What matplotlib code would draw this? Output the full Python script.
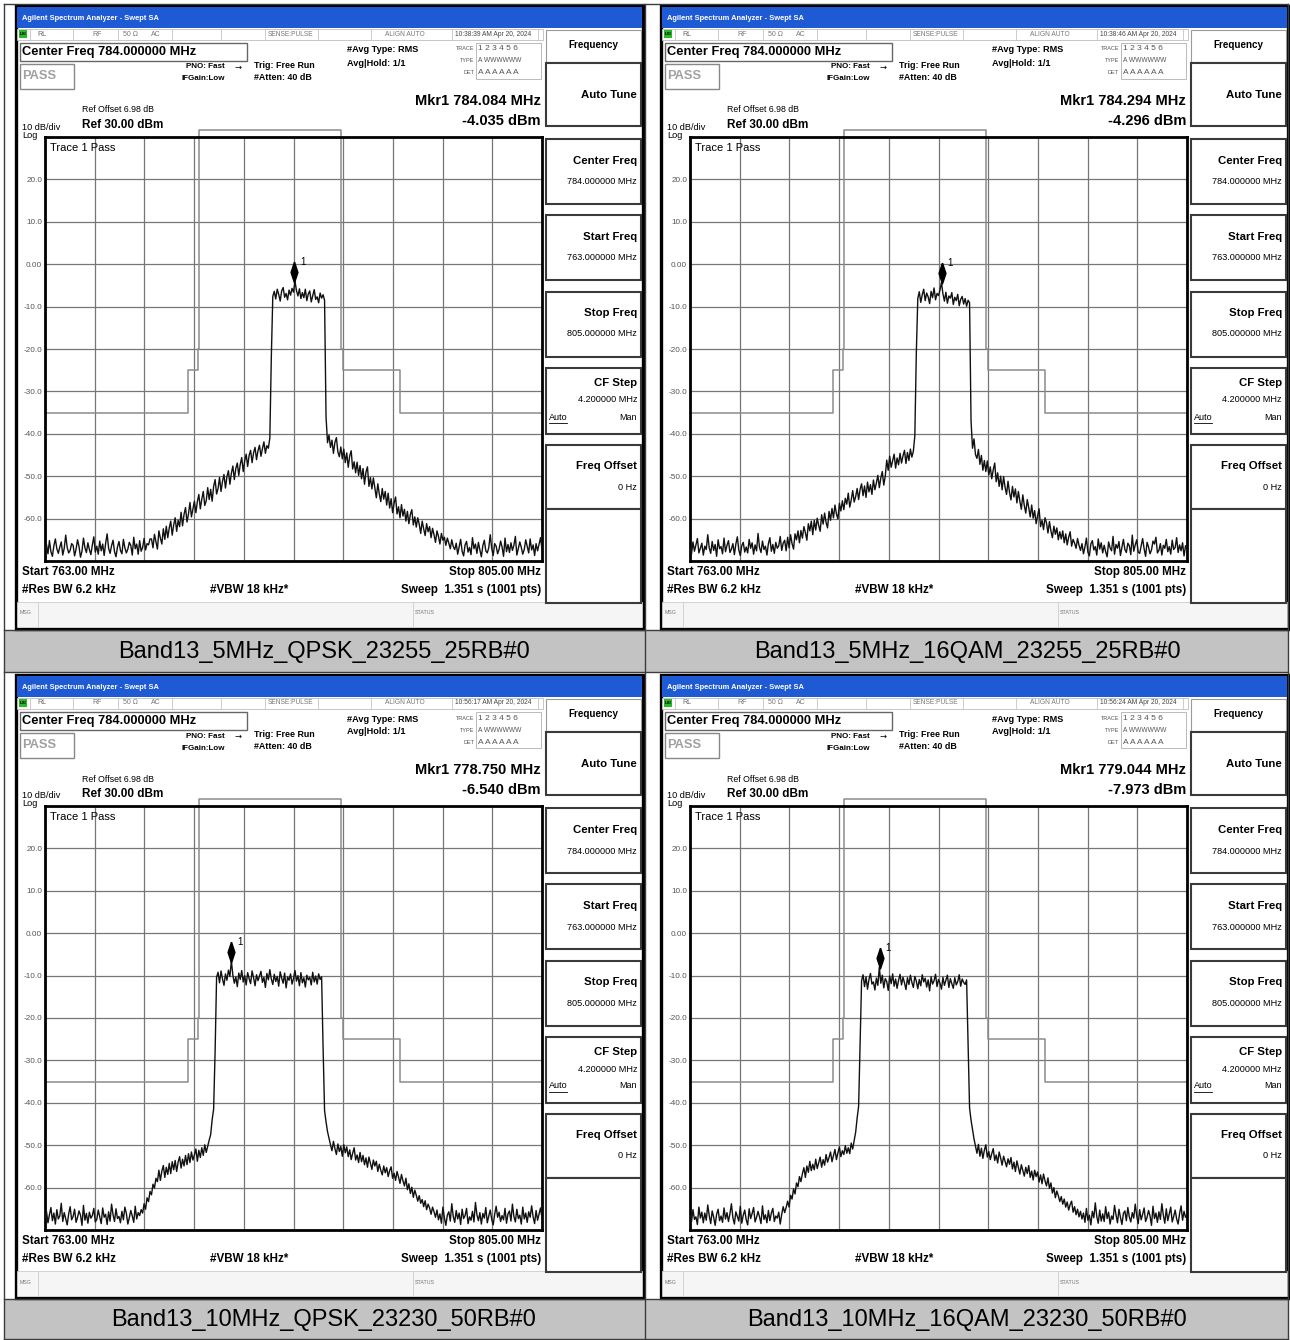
import numpy as np
import matplotlib
matplotlib.use("Agg")
import matplotlib.pyplot as plt
from matplotlib.patches import Rectangle
from matplotlib.lines import Line2D

# sweep settings (same on all four screens)
freq_start = 763.0
freq_stop = 805.0
ref_level = 30.0

level_5m_qpsk = [
    -67.4, -66.1, -68.3, -65.2, -67.8, -68.9, -66.4, -64.8, -67.1, -68.2,
    -66.7, -65.5, -68.6, -67.0, -63.9, -66.8, -68.1, -67.5, -65.9, -66.3,
    -68.8, -67.2, -65.0, -66.6, -69.1, -67.7, -64.6, -66.9, -68.0, -65.7,
    -67.3, -68.5, -66.2, -64.3, -67.9, -66.5, -68.4, -65.3, -67.6, -66.0,
    -68.7, -65.8, -63.6, -67.0, -68.2, -66.4, -65.1, -67.8, -69.0, -66.7,
    -65.4, -67.5, -68.3, -64.9, -66.9, -68.1, -67.2, -65.6, -66.3, -68.6,
    -64.4, -67.1, -66.0, -68.4, -65.2, -67.7, -66.8, -64.7, -67.4, -65.9,
    -66.2, -64.8,
    -64.8, -66.9, -63.7, -65.5, -67.2, -62.9, -64.6, -66.0, -62.4, -64.9,
    -61.8, -64.5, -62.2, -60.6, -63.9, -61.5, -59.8, -63.0, -60.4, -61.9,
    -58.5, -61.7, -59.0, -57.4, -60.8, -58.9, -56.2, -59.6, -57.8, -55.9,
    -58.6, -56.0, -54.3, -57.7, -55.4, -53.6, -56.9, -55.8, -52.7, -55.5,
    -53.1, -55.9, -52.4, -50.8, -54.2, -52.9, -50.3, -53.6, -51.2, -49.6,
    -52.8, -50.1, -48.7, -51.9, -49.3, -47.6, -50.8, -48.2, -46.9, -49.8,
    -47.2, -45.6, -48.9, -46.4, -44.8, -47.7, -45.1, -43.9, -46.8, -44.5,
    -43.2, -46.1, -44.0, -42.7, -45.3, -43.5, -41.9, -44.6, -42.8, -43.4,
    -41.0, -22.0,
    -7.6, -6.4, -8.2, -5.9, -7.1, -8.7, -6.3, -5.5, -7.8, -6.9,
    -8.4, -6.1, -7.3, -5.7, -6.6, -4.0, -6.2, -7.5, -5.8, -8.1,
    -6.7, -7.9, -5.9, -8.6, -7.0, -6.3, -8.9, -7.4, -6.0, -8.3,
    -7.7, -9.1, -6.8, -8.0, -7.2, -8.5,
    -36.0,
    -42.1, -40.3, -43.2, -41.5, -44.6, -42.0, -40.9, -44.3, -45.4, -43.1,
    -45.9, -43.6, -46.8, -44.5, -47.9, -45.2, -44.0, -48.3, -46.6, -49.2,
    -46.7, -49.8, -47.5, -50.6, -48.2, -51.9, -49.0, -47.8, -52.4, -50.3,
    -53.0, -50.4, -52.7, -55.1, -51.8, -54.2, -56.0, -52.9, -55.4, -53.6,
    -56.8, -54.0, -57.5, -55.3, -58.6, -56.4, -54.9, -58.9, -57.2, -59.8,
    -56.7, -59.4, -57.8, -60.6, -58.3, -61.2, -59.0, -57.9, -61.5, -59.6,
    -62.0, -59.8, -61.3, -63.5, -60.6, -62.4, -64.0, -61.2, -63.1, -61.9,
    -64.5, -62.3, -63.8, -65.6, -62.9, -64.2, -66.0, -63.5, -65.1, -64.4,
    -66.3, -64.6, -65.8, -67.1, -65.0, -66.6,
    -67.3, -65.8, -68.4, -66.6, -64.9, -67.7, -68.8, -66.2, -65.4, -67.9,
    -66.8, -68.5, -64.5, -67.1, -66.0, -68.2, -65.6, -67.4, -69.0, -66.4,
    -65.1, -67.6, -68.1, -66.9, -63.8, -67.0, -68.7, -65.9, -66.5, -68.3,
    -67.2, -65.3, -66.7, -68.9, -64.6, -67.8, -66.1, -68.0, -65.7, -67.5,
    -66.3, -64.2, -68.6, -67.0, -65.5, -66.8, -68.4, -67.3, -65.0, -66.6,
    -68.1, -64.8, -67.4, -66.2, -68.7, -65.9, -67.6, -66.0, -64.5, -67.2,
]
level_5m_16qam = [
    -66.8, -68.4, -65.5, -67.7, -66.2, -64.7, -68.1, -67.0, -65.8, -68.6,
    -66.5, -67.3, -63.8, -66.9, -68.2, -65.4, -67.5, -66.1, -68.9, -65.0,
    -67.1, -66.6, -68.3, -64.6, -67.8, -66.3, -65.2, -68.0, -67.2, -65.9,
    -68.5, -66.0, -64.3, -67.4, -68.7, -66.4, -65.6, -67.9, -66.7, -68.1,
    -64.9, -67.0, -65.7, -68.4, -66.2, -67.6, -63.5, -66.8, -68.0, -65.3,
    -67.3, -66.5, -68.6, -65.9, -64.5, -67.7, -66.1, -68.2, -65.6, -67.0,
    -66.4, -64.2, -67.5, -65.8,
    -65.1, -67.6, -64.4, -66.9, -63.8, -65.9, -67.2, -63.6, -65.0, -62.9,
    -65.7, -62.8, -64.6, -61.9, -63.3, -65.1, -61.2, -62.9, -60.6, -63.8,
    -60.4, -62.7, -59.9, -61.6, -63.0, -59.1, -61.3, -58.7, -60.9, -62.2,
    -58.3, -60.4, -57.6, -59.8, -56.8, -58.9, -60.1, -56.4, -58.2, -55.8,
    -57.9, -55.2, -56.6, -54.0, -57.3, -55.6, -53.4, -56.1, -54.8, -52.9,
    -55.5, -53.1, -51.8, -54.6, -52.3, -55.0, -51.4, -53.7, -52.0, -54.3,
    -50.9, -53.2, -51.6, -49.8, -52.7, -50.4, -48.9, -52.1, -50.0, -46.2,
    -48.6, -45.3, -47.9, -46.4, -44.8, -48.1, -45.7, -47.3, -44.6, -46.9,
    -45.2, -43.9, -47.0, -44.4, -46.3, -43.6, -45.5, -44.1,
    -40.5, -21.0,
    -8.1, -6.5, -9.0, -7.2, -5.9, -8.6, -6.8, -7.7, -9.3, -6.4,
    -7.9, -5.6, -8.4, -6.9, -7.4, -6.1, -4.3, -7.0, -8.7, -6.6,
    -9.2, -7.5, -8.0, -6.7, -9.5, -7.8, -8.6, -7.1, -9.8, -8.3,
    -7.6, -9.4, -8.1, -9.9, -8.5, -9.1,
    -37.0,
    -43.4, -41.2, -44.9, -45.8, -43.7, -47.2, -45.1, -48.6, -46.3, -48.9,
    -46.4, -49.7, -47.8, -50.6, -48.5, -46.9, -51.3, -49.2, -52.4, -50.0,
    -53.2, -50.1, -52.6, -54.3, -51.2, -53.8, -55.6, -52.4, -54.9, -53.0,
    -56.3, -53.6, -55.9, -57.8, -54.4, -56.9, -58.7, -55.5, -57.4, -59.6,
    -56.8, -59.9, -58.1, -61.2, -59.3, -57.7, -61.9, -60.4, -62.6, -59.8,
    -61.0, -63.4, -60.7, -62.9, -64.5, -61.8, -63.7, -62.2, -65.0, -63.1,
    -64.8, -62.9, -65.7, -63.6, -66.2, -64.4, -63.1, -66.5, -64.9, -65.8,
    -67.0, -64.7, -66.3,
    -67.5, -65.9, -68.3, -66.7, -64.6, -67.9, -68.8, -66.0, -65.2, -67.4,
    -66.6, -68.6, -64.8, -67.2, -65.7, -68.1, -66.3, -67.8, -69.0, -65.5,
    -66.9, -67.6, -64.2, -68.4, -66.1, -67.0, -65.4, -68.7, -66.8, -64.9,
    -67.3, -68.0, -65.8, -66.4, -68.5, -63.9, -67.7, -66.2, -65.0, -67.9,
    -68.2, -66.5, -64.7, -67.1, -68.9, -65.6, -66.7, -68.3, -67.4, -65.3,
    -66.0, -64.4, -68.1, -67.5, -65.9, -68.6, -66.3, -67.0, -64.9, -67.8,
    -66.6, -68.4, -65.1, -67.3, -66.8, -64.5, -68.0, -66.2, -67.6, -65.7,
    -68.8, -66.4, -67.2,
]
level_10m_qpsk = [
    -67.1, -65.6, -68.3, -66.4, -64.7, -67.8, -66.0, -68.6, -65.2, -67.4,
    -66.7, -63.7, -68.0, -65.9, -67.3, -68.8, -66.2, -64.5, -67.6, -66.8,
    -65.1, -68.2, -67.0, -65.5, -66.5, -68.9, -64.2, -67.7, -66.1, -68.4,
    -65.8, -67.2, -66.6, -64.9, -68.1, -67.5, -65.3, -66.9, -68.5, -64.8,
    -67.0, -66.3, -68.7, -65.7, -67.9, -63.9, -66.4, -68.0, -65.0, -67.3,
    -66.8, -68.3, -65.6, -67.6, -64.6, -66.1, -68.6, -67.1, -65.4, -66.7,
    -68.2, -64.4, -67.4, -65.9, -66.6, -65.2,
    -66.0, -63.8, -65.1, -62.4, -63.3, -60.9, -61.7, -59.2, -60.1, -57.8, -58.6,
    -55.9, -58.3, -56.1, -54.8, -57.6, -55.2, -56.9, -54.3, -56.7, -53.9,
    -55.8, -53.6, -56.2, -54.0, -52.7, -55.4, -53.3, -54.9, -52.4, -54.6,
    -52.0, -54.1, -51.6, -53.5, -52.3, -50.9, -53.8, -51.2, -52.9, -50.6,
    -52.4, -49.9, -51.7, -50.2, -48.8,
    -47.5, -44.0, -41.5, -28.0,
    -10.4, -9.2, -11.7, -8.9, -10.8, -12.3, -9.6, -11.1, -8.7, -10.2,
    -6.5, -9.9, -11.8, -10.3, -12.6, -9.4, -10.9, -8.8, -11.5, -10.0,
    -12.2, -9.3, -10.7, -11.9, -8.9, -10.5, -12.4, -9.8, -11.2, -10.1,
    -9.0, -11.6, -10.4, -12.8, -9.5, -11.0, -8.6, -10.8, -12.1, -9.7,
    -11.4, -10.2, -12.5, -9.1, -10.6, -11.8, -9.4, -12.9, -10.3, -11.1,
    -9.6, -12.0, -10.7, -8.8, -11.3, -10.0, -12.4, -9.3, -11.7, -10.5,
    -12.7, -9.9, -11.0, -10.4, -12.2, -9.2, -11.5, -10.1, -12.0, -9.6,
    -10.9, -10.3,
    -27.0, -41.8, -44.5, -46.8, -48.4, -49.9,
    -51.3, -49.1, -50.8, -52.2, -49.7, -51.5, -50.3, -52.6, -49.9, -51.8,
    -50.4, -52.7, -51.1, -53.4, -51.9, -50.6, -53.5, -52.3, -54.1, -51.7,
    -53.9, -52.4, -54.6, -53.0, -55.2, -52.8, -54.3, -55.7, -53.5, -54.9,
    -53.8, -56.2, -54.5, -55.9, -57.0, -54.9, -56.5, -55.3, -57.4, -56.0,
    -55.1, -57.8, -56.6, -58.3, -56.2, -57.5, -59.0, -56.9, -58.4,
    -59.6, -57.8, -60.5, -59.1, -61.4, -59.9, -62.3, -60.6, -61.8, -63.2,
    -61.9, -63.7, -62.8, -64.5, -63.1, -65.2, -63.9, -64.8, -66.3, -64.6,
    -65.7, -67.0,
    -65.3, -67.6, -66.2, -68.4, -64.6, -67.1, -68.9, -66.5, -65.7, -67.9,
    -63.8, -66.8, -68.2, -65.4, -67.4, -66.0, -68.7, -65.1, -67.3, -66.6,
    -64.9, -68.5, -66.9, -67.7, -65.6, -68.1, -63.5, -66.4, -67.8, -65.9,
    -68.6, -66.1, -67.2, -64.7, -68.3, -66.7, -65.3, -67.5, -68.8, -66.3,
    -64.4, -67.0, -65.8, -68.0, -66.6, -67.6, -64.9, -68.4, -66.2, -65.5,
    -67.9, -63.9, -66.8, -68.1, -65.1, -67.3, -66.5, -68.6, -64.6, -67.4,
    -66.0, -68.2, -65.7, -67.0, -64.3, -66.9, -68.5, -65.4, -67.7, -66.3,
    -64.8, -67.2,
]
level_10m_16qam = [
    -66.4, -68.1, -65.2, -67.5, -66.9, -68.7, -64.6, -67.2, -65.8, -68.3,
    -66.0, -67.7, -64.1, -66.6, -68.5, -65.5, -67.0, -68.9, -66.3, -65.1,
    -67.8, -66.7, -68.2, -64.8, -67.4, -65.9, -68.0, -66.2, -63.8, -67.1,
    -68.6, -65.7, -66.8, -67.9, -64.4, -68.4, -66.5, -65.3, -67.6, -68.8,
    -65.0, -67.3, -66.1, -64.7, -68.1, -67.0, -65.6, -66.9, -68.5, -64.3,
    -67.5, -66.4, -68.3, -65.4, -67.8, -66.0, -64.9, -68.0, -66.7, -67.2,
    -65.8, -68.6, -66.3, -64.5, -65.9, -64.7,
    -63.2, -64.6, -61.8, -62.7, -60.3, -61.5, -58.9, -59.8, -57.4, -58.6, -56.7,
    -55.3, -57.6, -54.9, -56.4, -53.8, -56.0, -54.5, -55.8, -53.3, -55.5,
    -54.1, -52.8, -55.2, -53.4, -54.7, -52.2, -54.0, -52.9, -51.6, -53.9,
    -52.5, -51.0, -53.4, -51.8, -50.4, -52.7, -51.3, -52.2, -50.1, -51.9,
    -50.6, -52.0, -49.5, -50.9, -48.9,
    -46.9, -43.6, -40.8, -26.5,
    -11.2, -9.8, -12.6, -10.3, -13.2, -10.9, -9.5, -12.0, -11.5, -13.4,
    -10.6, -12.3, -8.0, -11.8, -9.9, -12.9, -10.7, -11.4, -13.5, -10.1,
    -11.9, -9.6, -12.5, -10.8, -13.0, -11.1, -9.7, -12.2, -10.4, -11.7,
    -13.3, -10.5, -12.1, -9.9, -11.6, -12.8, -10.2, -11.3, -13.1, -10.9,
    -12.4, -9.8, -11.5, -10.6, -12.7, -11.0, -13.6, -10.3, -12.0, -11.2,
    -9.7, -12.6, -10.9, -11.8, -13.2, -10.4, -12.3, -11.1, -9.9, -12.8,
    -10.7, -11.9, -13.0, -10.5, -12.2, -11.4, -9.8, -12.5, -10.8, -11.6,
    -12.1, -11.0,
    -26.0, -41.2, -44.1, -46.3, -48.5, -50.2,
    -51.9, -49.8, -52.6, -50.7, -53.1, -51.2, -49.9, -52.8, -51.5, -53.4,
    -52.0, -50.8, -53.6, -52.3, -54.2, -51.6, -53.0, -54.7, -52.6, -53.8,
    -55.1, -53.2, -54.5, -52.9, -55.6, -54.0, -56.2, -53.7, -55.2, -56.8,
    -54.6, -56.0, -57.3, -55.2, -56.7, -54.8, -57.6, -56.1, -58.2, -55.9,
    -57.4, -56.3, -58.7, -57.0, -59.1, -56.8, -58.4, -59.6, -57.7,
    -60.2, -58.9, -61.3, -60.0, -62.4, -60.8, -61.9, -63.3, -62.1, -63.9,
    -62.7, -64.6, -63.4, -65.3, -64.0, -63.2, -65.8, -64.5, -66.4, -65.1,
    -66.9, -65.6,
    -67.4, -66.0, -68.2, -64.9, -67.7, -66.5, -68.8, -65.6, -67.1, -63.6,
    -66.8, -68.4, -65.3, -67.9, -66.2, -68.0, -64.5, -67.3, -65.8, -68.6,
    -66.7, -67.5, -64.2, -66.4, -68.3, -65.1, -67.0, -68.7, -66.1, -65.5,
    -67.8, -64.7, -66.9, -68.1, -65.9, -67.2, -63.9, -66.6, -68.5, -65.2,
    -67.6, -66.3, -64.8, -68.0, -67.0, -65.4, -66.7, -68.9, -64.4, -67.3,
    -66.0, -68.2, -65.7, -67.5, -63.8, -66.5, -68.4, -65.0, -67.8, -66.2,
    -64.6, -68.1, -66.8, -65.3, -67.4, -68.6, -66.1, -64.3, -67.7, -65.6,
    -67.0, -66.4,
]

marker_freq = [784.084, 784.294, 778.750, 779.044]
marker_level = [-4.035, -4.296, -6.540, -7.973]
captions = ["Band13_5MHz_QPSK_23255_25RB#0", "Band13_5MHz_16QAM_23255_25RB#0",
            "Band13_10MHz_QPSK_23230_50RB#0", "Band13_10MHz_16QAM_23230_50RB#0"]
timestamps = ["10:38:39 AM Apr 20, 2024", "10:38:46 AM Apr 20, 2024",
              "10:56:17 AM Apr 20, 2024", "10:56:24 AM Apr 20, 2024"]

# spectrum emission mask limit line
mask_freq = [763.0, 775.05, 775.05, 775.9, 775.9, 776.05, 776.05, 788.0, 788.0, 788.2, 788.2, 793.0, 793.0, 805.0]
mask_level = [-35, -35, -25, -25, -20, -20, 31.6, 31.6, -20, -20, -25, -25, -35, -35]

ytick_vals = [20, 10, 0, -10, -20, -30, -40, -50, -60]
ytick_text = ['20.0', '10.0', '0.00', '-10.0', '-20.0', '-30.0', '-40.0', '-50.0', '-60.0']

W, H = 1290, 1340
SANS = ['Liberation Sans', 'DejaVu Sans']

fig = plt.figure(figsize=(W / 100, H / 100), dpi=100)
fig.patch.set_facecolor('white')


def rect(x0, y0, x1, y1, fc='none', ec='none', lw=1.0, z=-5):
    fig.add_artist(Rectangle((x0 / W, 1 - y1 / H), (x1 - x0) / W, (y1 - y0) / H,
                             transform=fig.transFigure, facecolor=fc, edgecolor=ec, lw=lw, zorder=z))


def line(xs, ys, color='black', lw=1.0, z=-3):
    fig.add_artist(Line2D([x / W for x in xs], [1 - y / H for y in ys],
                          transform=fig.transFigure, color=color, lw=lw, zorder=z))


def put(x, y, s, size=7, ha='left', bold=False, color='black', family=SANS):
    fig.text(x / W, 1 - y / H, s, fontsize=size, ha=ha, va='center',
             fontweight='bold' if bold else 'normal', color=color, family=family, zorder=5)


# table cells
rect(4, 630, 1288, 672, fc='#c3c3c3', z=-6)
rect(4, 1299, 1288, 1339, fc='#c3c3c3', z=-6)
for yy in [4, 630, 672, 1299, 1339]:
    line([4, 1288], [yy, yy], color='#3c3c3c', lw=1.0, z=-2)
for xx in [4, 645, 1288]:
    line([xx, xx], [4, 1339], color='#3c3c3c', lw=1.0, z=-2)

traces = [level_5m_qpsk, level_5m_16qam, level_10m_qpsk, level_10m_16qam]
offsets = [(0, 0), (645, 0), (0, 669), (645, 669)]
DIAMOND = [(0, 1), (0.33, 0), (0, -1), (-0.33, 0), (0, 1)]

for k in range(4):
    ox, oy = offsets[k]

    # screen frame + title bar
    rect(ox + 16, oy + 6, ox + 643, oy + 629, fc='white', ec='black', lw=2.4, z=-5)
    rect(ox + 17, oy + 7, ox + 642, oy + 28, fc='#1d5ad4', z=-4)
    put(ox + 22, oy + 18, 'Agilent Spectrum Analyzer - Swept SA', 5.4, bold=True, color='white')

    # status row
    rect(ox + 17, oy + 29, ox + 543, oy + 40, fc='white', ec='#bdbdbd', lw=0.6, z=-4)
    for sx in [30, 73, 118, 172, 221, 265, 318, 371, 452, 538]:
        line([ox + sx, ox + sx], [oy + 29, oy + 40], color='#c4c4c4', lw=0.6)
    rect(ox + 19, oy + 30, ox + 27, oy + 38, fc='#28b828', z=-3)
    put(ox + 20, oy + 34, 'LXI', 3.2, bold=True)
    put(ox + 37, oy + 34, 'RL', 5, color='#666666')
    put(ox + 92, oy + 34, 'RF', 5, color='#777777')
    put(ox + 123, oy + 34, '50 Ω', 5, color='#777777')
    put(ox + 151, oy + 34, 'AC', 5, color='#777777')
    put(ox + 291, oy + 34, 'SENSE:PULSE', 4.8, ha='center', color='#777777')
    put(ox + 405, oy + 34, 'ALIGN AUTO', 4.8, ha='center', color='#777777')
    put(ox + 455, oy + 34, timestamps[k], 4.8, color='#444444')

    # measurement header
    rect(ox + 20, oy + 43, ox + 247, oy + 61, ec='#666666', lw=1.0, z=-3)
    put(ox + 22, oy + 52, 'Center Freq 784.000000 MHz', 9.3, bold=True)
    rect(ox + 20, oy + 64, ox + 74, oy + 89, ec='#888888', lw=1.0, z=-3)
    put(ox + 22, oy + 76, 'PASS', 9.3, bold=True, color='#a0a0a0')
    put(ox + 225, oy + 67, 'PNO: Fast', 5.8, ha='right', bold=True)
    put(ox + 238, oy + 67, '→', 6, ha='center', family=['DejaVu Sans'])
    put(ox + 225, oy + 79, 'IFGain:Low', 5.8, ha='right', bold=True)
    put(ox + 254, oy + 65, 'Trig: Free Run', 6.4, bold=True)
    put(ox + 254, oy + 78, '#Atten: 40 dB', 6.4, bold=True)
    put(ox + 347, oy + 50, '#Avg Type: RMS', 6.6, bold=True)
    put(ox + 347, oy + 63, 'Avg|Hold: 1/1', 6.6, bold=True)
    rect(ox + 476, oy + 43, ox + 541, oy + 79, ec='#b0b0b0', lw=0.6, z=-3)
    put(ox + 474, oy + 49, 'TRACE', 4, ha='right', color='#555555')
    put(ox + 474, oy + 61, 'TYPE', 4, ha='right', color='#555555')
    put(ox + 474, oy + 73, 'DET', 4, ha='right', color='#555555')
    put(ox + 478, oy + 49, '1 2 3 4 5 6', 6, color='#555555')
    put(ox + 478, oy + 61, 'A WWWWWW', 4.8, color='#555555')
    put(ox + 478, oy + 73, 'A A A A A A', 6, color='#555555')

    put(ox + 541, oy + 101, f'Mkr1 {marker_freq[k]:.3f} MHz', 10.5, ha='right', bold=True)
    put(ox + 541, oy + 121, f'{marker_level[k]:.3f} dBm', 10.5, ha='right', bold=True)
    put(ox + 82, oy + 110, 'Ref Offset 6.98 dB', 6.3)
    put(ox + 22, oy + 127, '10 dB/div', 6.6)
    put(ox + 82, oy + 125, f'Ref {ref_level:.2f} dBm', 8.5, bold=True)
    put(ox + 22, oy + 135, 'Log', 6.6)

    # graticule
    ax = fig.add_axes([(ox + 45) / W, 1 - (oy + 561) / H, 497 / W, 424 / H])
    ax.set_facecolor('white')
    ax.set_xlim(freq_start, freq_stop)
    ax.set_ylim(ref_level - 100, ref_level)
    ax.set_xticks(np.linspace(freq_start, freq_stop, 11))
    yt = np.arange(ref_level - 100, ref_level + 1, 10)
    ax.set_yticks(yt)
    ax.set_yticklabels([ytick_text[ytick_vals.index(int(v))] if int(v) in ytick_vals else '' for v in yt],
                       family=SANS)
    ax.tick_params(axis='both', length=0, labelbottom=False, labelsize=5.9, labelcolor='#555555', pad=2)
    ax.grid(True, color='#767676', lw=0.9)
    ax.set_axisbelow(True)
    for sp in ax.spines.values():
        sp.set_linewidth(2.0)
        sp.set_color('black')
    freq = np.linspace(freq_start, freq_stop, len(traces[k]))
    ax.plot(mask_freq, mask_level, color='#8c8c8c', lw=1.1, clip_on=False, zorder=2)
    ax.plot(freq, traces[k], color='#111111', lw=1.0, zorder=3)
    ax.plot([marker_freq[k]], [marker_level[k] + 2.2], marker=DIAMOND, ms=15, color='black',
            linestyle='none', zorder=4)
    ax.annotate('1', (marker_freq[k], marker_level[k] + 2.2), xytext=(4, 7), textcoords='offset points',
                fontsize=7, family=SANS, va='center')
    put(ox + 50, oy + 148, 'Trace 1 Pass', 8)

    # footer
    put(ox + 22, oy + 572, f'Start {freq_start:.2f} MHz', 8.4, bold=True)
    put(ox + 541, oy + 572, f'Stop {freq_stop:.2f} MHz', 8.4, ha='right', bold=True)
    put(ox + 22, oy + 590, '#Res BW 6.2 kHz', 8.4, bold=True)
    put(ox + 210, oy + 590, '#VBW 18 kHz*', 8.4, bold=True)
    put(ox + 541, oy + 590, 'Sweep  1.351 s (1001 pts)', 8.4, ha='right', bold=True)
    rect(ox + 17, oy + 602, ox + 642, oy + 627, fc='#f5f5f5', ec='#cccccc', lw=0.6, z=-4)
    line([ox + 38, ox + 38], [oy + 602, oy + 627], color='#cccccc', lw=0.6)
    line([ox + 413, ox + 413], [oy + 602, oy + 627], color='#cccccc', lw=0.6)
    put(ox + 20, oy + 613, 'MSG', 3.8, color='#777777')
    put(ox + 415, oy + 613, 'STATUS', 3.8, color='#777777')

    # softkey column
    rect(ox + 546, oy + 30, ox + 641, oy + 62, fc='white', ec='#9a9a9a', lw=0.8, z=-4)
    put(ox + 593, oy + 45, 'Frequency', 7.1, ha='center', bold=True)
    for (y0, y1) in [(63, 126), (139, 204), (215, 280), (292, 357), (368, 434), (445, 509), (509, 603)]:
        rect(ox + 546, oy + y0, ox + 641, oy + y1, fc='white', ec='#3a3a3a', lw=1.5, z=-4)
    put(ox + 637, oy + 95, 'Auto Tune', 8.2, ha='right', bold=True)
    for (lab, ly, val, vy) in [('Center Freq', 161, '784.000000 MHz', 182),
                               ('Start Freq', 237, '763.000000 MHz', 258),
                               ('Stop Freq', 313, '805.000000 MHz', 334),
                               ('CF Step', 383, '4.200000 MHz', 400),
                               ('Freq Offset', 466, '0 Hz', 487)]:
        put(ox + 637, oy + ly, lab, 8.2, ha='right', bold=True)
        put(ox + 637, oy + vy, val, 6.6, ha='right')
    put(ox + 549, oy + 417, 'Auto', 6.5)
    line([ox + 549, ox + 567], [oy + 423, oy + 423], lw=0.6, z=6)
    put(ox + 637, oy + 417, 'Man', 6.5, ha='right')

# captions
for (cx, cy), cap in zip([(324, 652), (967, 652), (324, 1320), (967, 1320)], captions):
    put(cx, cy, cap, 17, ha='center')

fig.savefig('out.png', dpi=100)
